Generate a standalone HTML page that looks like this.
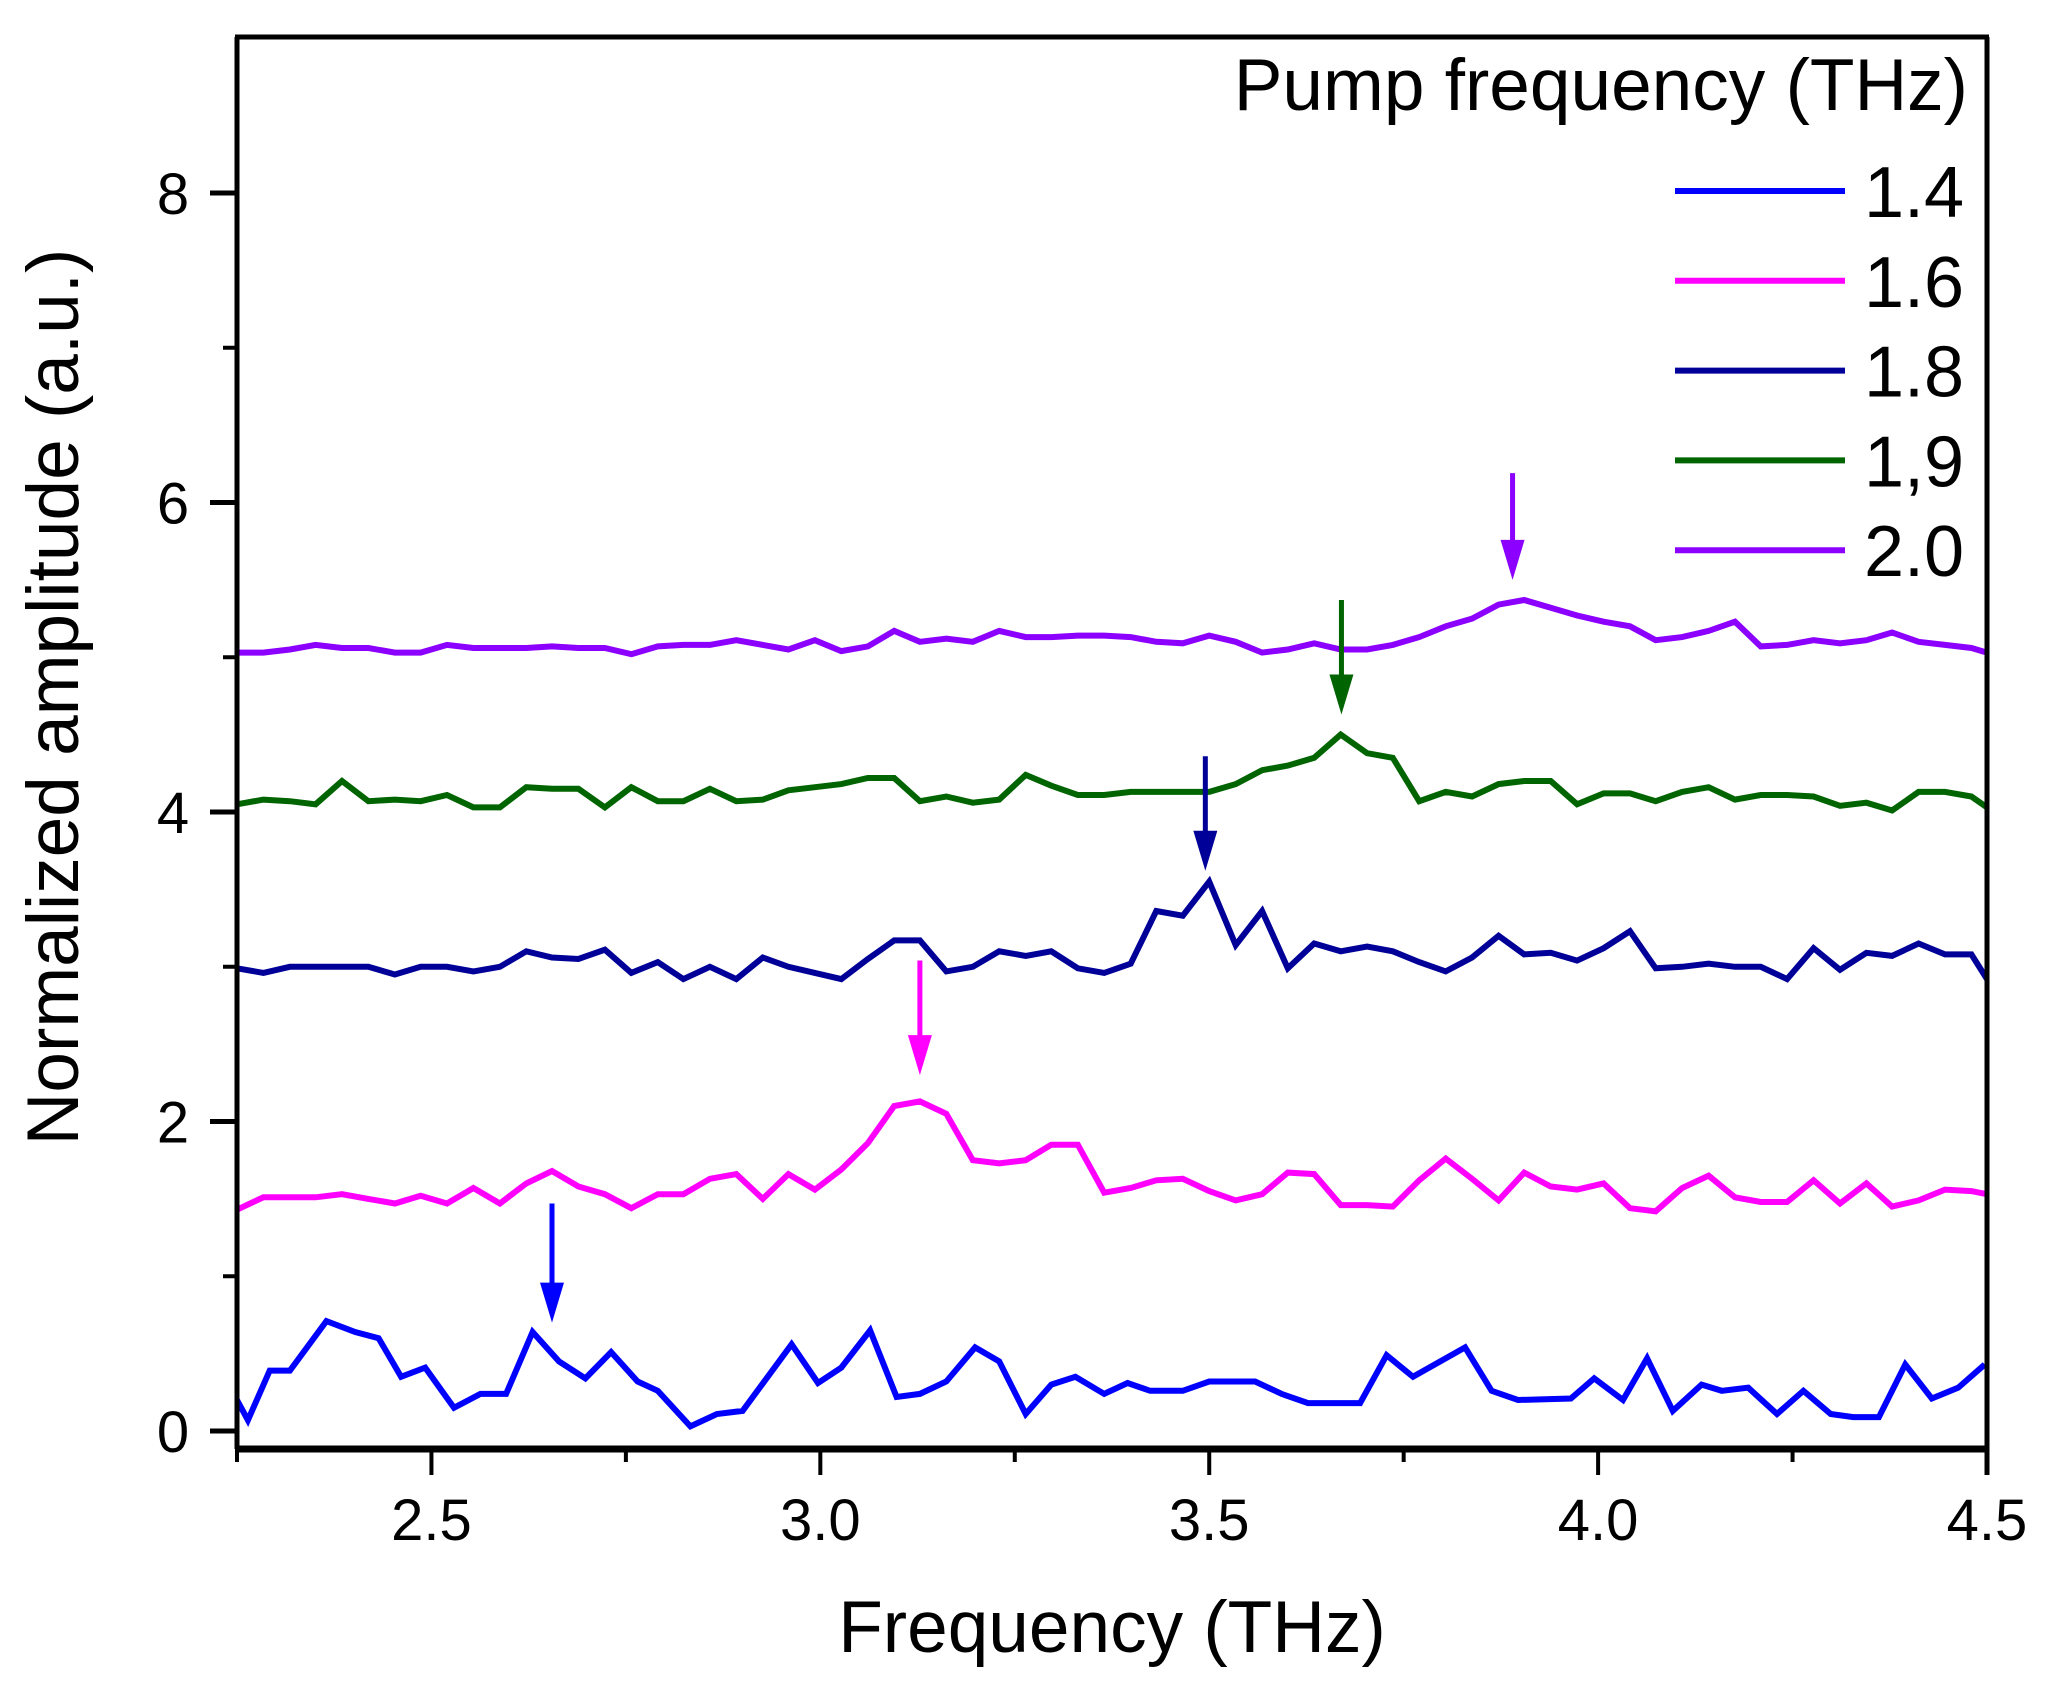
<!DOCTYPE html>
<html><head><meta charset="utf-8"><style>
html,body{margin:0;padding:0;background:#fff;}
svg{display:block;font-family:"Liberation Sans",sans-serif;}
</style></head><body>
<svg id="chart" width="2062" height="1691" viewBox="0 0 2062 1691" xmlns="http://www.w3.org/2000/svg"></svg>
<script>
// ---- data ----
const freqGrid=[2.250,2.284,2.318,2.351,2.385,2.419,2.453,2.486,2.520,2.554,2.588,2.622,2.655,2.689,2.723,2.757,2.791,2.824,2.858,2.892,2.926,2.959,2.993,3.027,3.061,3.095,3.128,3.162,3.196,3.230,3.264,3.297,3.331,3.365,3.399,3.432,3.466,3.500,3.534,3.568,3.601,3.635,3.669,3.703,3.736,3.770,3.804,3.838,3.872,3.905,3.939,3.973,4.007,4.041,4.074,4.108,4.142,4.176,4.209,4.243,4.277,4.311,4.345,4.378,4.412,4.446,4.480,4.500];
const blueFreq=[2.250,2.264,2.292,2.318,2.365,2.402,2.432,2.461,2.492,2.529,2.563,2.596,2.630,2.664,2.698,2.731,2.765,2.791,2.833,2.867,2.900,2.963,2.997,3.027,3.064,3.098,3.128,3.162,3.199,3.230,3.264,3.297,3.328,3.365,3.395,3.424,3.466,3.500,3.559,3.593,3.627,3.694,3.728,3.762,3.829,3.863,3.897,3.965,3.995,4.032,4.063,4.096,4.133,4.159,4.193,4.230,4.264,4.299,4.328,4.361,4.395,4.429,4.463,4.497];
const s14=[0.20,0.07,0.39,0.39,0.71,0.64,0.60,0.35,0.41,0.15,0.24,0.24,0.64,0.45,0.34,0.51,0.32,0.26,0.03,0.11,0.13,0.56,0.31,0.41,0.65,0.22,0.24,0.32,0.54,0.45,0.11,0.30,0.35,0.24,0.31,0.26,0.26,0.32,0.32,0.24,0.18,0.18,0.49,0.35,0.54,0.26,0.20,0.21,0.34,0.20,0.47,0.13,0.30,0.26,0.28,0.11,0.26,0.11,0.09,0.09,0.43,0.21,0.28,0.43];
const s16=[1.43,1.51,1.51,1.51,1.53,1.50,1.47,1.52,1.47,1.57,1.47,1.60,1.68,1.58,1.53,1.44,1.53,1.53,1.63,1.66,1.50,1.66,1.56,1.69,1.86,2.10,2.13,2.05,1.75,1.73,1.75,1.85,1.85,1.54,1.57,1.62,1.63,1.55,1.49,1.53,1.67,1.66,1.46,1.46,1.45,1.62,1.76,1.63,1.49,1.67,1.58,1.56,1.60,1.44,1.42,1.57,1.65,1.51,1.48,1.48,1.62,1.47,1.60,1.45,1.49,1.56,1.55,1.53];
const s18=[2.99,2.96,3.00,3.00,3.00,3.00,2.95,3.00,3.00,2.97,3.00,3.10,3.06,3.05,3.11,2.96,3.03,2.92,3.00,2.92,3.06,3.00,2.96,2.92,3.05,3.17,3.17,2.97,3.00,3.10,3.07,3.10,2.99,2.96,3.02,3.36,3.33,3.55,3.14,3.36,2.99,3.15,3.10,3.13,3.10,3.03,2.97,3.06,3.20,3.08,3.09,3.04,3.12,3.23,2.99,3.00,3.02,3.00,3.00,2.92,3.12,2.98,3.09,3.07,3.15,3.08,3.08,2.92];
const s19=[4.05,4.08,4.07,4.05,4.20,4.07,4.08,4.07,4.11,4.03,4.03,4.16,4.15,4.15,4.03,4.16,4.07,4.07,4.15,4.07,4.08,4.14,4.16,4.18,4.22,4.22,4.07,4.10,4.06,4.08,4.24,4.17,4.11,4.11,4.13,4.13,4.13,4.13,4.18,4.27,4.30,4.35,4.50,4.38,4.35,4.07,4.13,4.10,4.18,4.20,4.20,4.05,4.12,4.12,4.07,4.13,4.16,4.08,4.11,4.11,4.10,4.04,4.06,4.01,4.13,4.13,4.10,4.03];
const s20=[5.03,5.03,5.05,5.08,5.06,5.06,5.03,5.03,5.08,5.06,5.06,5.06,5.07,5.06,5.06,5.02,5.07,5.08,5.08,5.11,5.08,5.05,5.11,5.04,5.07,5.17,5.10,5.12,5.10,5.17,5.13,5.13,5.14,5.14,5.13,5.10,5.09,5.14,5.10,5.03,5.05,5.09,5.05,5.05,5.08,5.13,5.20,5.25,5.34,5.37,5.32,5.27,5.23,5.20,5.11,5.13,5.17,5.23,5.07,5.08,5.11,5.09,5.11,5.16,5.10,5.08,5.06,5.03];
const seriesLabels=["1.4","1.6","1.8","1,9","2.0"];
const arrowFreqs=[2.655,3.128,3.495,3.67,3.89];
const arrowTops=[1.47,3.04,4.36,5.37,6.19];
const arrowTips=[0.70,2.30,3.62,4.63,5.50];
const xTicks=[2.5,3.0,3.5,4.0,4.5];
const xTickLabels=["2.5","3.0","3.5","4.0","4.5"];
const xMinorTicks=[2.25,2.75,3.25,3.75,4.25];
const yTicks=[0,2,4,6,8];
const yTickLabels=["0","2","4","6","8"];
const yMinorTicks=[1,3,5,7];

// ---- layout ----
const L=237,R=1987,T=37,B=1449;
const X=f=>L+(f-2.25)/(4.5-2.25)*(R-L);
const Y=v=>1431-v*154.75;
const colors=["#0000ff","#ff00ff","#000099","#006400","#8b00ff"];
const NS="http://www.w3.org/2000/svg";
const svg=document.getElementById('chart');
function mk(tag,attrs,parent){const e=document.createElementNS(NS,tag);for(const k in attrs)e.setAttribute(k,attrs[k]);(parent||svg).appendChild(e);return e;}

const allSeries=[[blueFreq,s14],[freqGrid,s16],[freqGrid,s18],[freqGrid,s19],[freqGrid,s20]];
const plot=mk('g',{});


allSeries.forEach((s,i)=>{
  const pts=s[1].map((v,j)=>X(s[0][j]).toFixed(1)+','+Y(v).toFixed(1)).join(' ');
  const pl=mk('polyline',{points:pts,fill:'none',stroke:colors[i],'stroke-width':6,'stroke-linejoin':'miter'},plot);
  
  
});
// arrows
arrowFreqs.forEach((f,i)=>{
  const g=mk('g',{});
  
  
  const x=X(f),y1=Y(arrowTops[i]),y2=Y(arrowTips[i]);
  mk('line',{x1:x,y1:y1,x2:x,y2:y2-30,stroke:colors[i],'stroke-width':5},g);
  mk('polygon',{points:`${x-12},${y2-40} ${x+12},${y2-40} ${x},${y2}`,fill:colors[i]},g);
});
// axes frame
const ax=mk('g',{});


mk('line',{x1:L-2,y1:T,x2:R+2,y2:T,stroke:'#000','stroke-width':5},ax);
mk('line',{x1:L,y1:T,x2:L,y2:B,stroke:'#000','stroke-width':5},ax);
mk('line',{x1:R,y1:T,x2:R,y2:B+26,stroke:'#000','stroke-width':5},ax);
mk('line',{x1:L-2,y1:B,x2:R+2,y2:B,stroke:'#000','stroke-width':7},ax);
// x ticks
xTicks.forEach((t,i)=>{
  mk('line',{x1:X(t),y1:B,x2:X(t),y2:B+26,stroke:'#000','stroke-width':4},ax);
  const tx=mk('text',{x:X(t),y:1540,'font-size':58,'text-anchor':'middle',fill:'#000'},ax);
  tx.textContent=xTickLabels[i];
  
  
});
xMinorTicks.forEach(t=>{mk('line',{x1:X(t),y1:B,x2:X(t),y2:B+13,stroke:'#000','stroke-width':4},ax);});
// y ticks
yTicks.forEach((t,i)=>{
  mk('line',{x1:L-27,y1:Y(t),x2:L,y2:Y(t),stroke:'#000','stroke-width':5},ax);
  const tx=mk('text',{x:173,y:Y(t)+21,'font-size':58,'text-anchor':'middle',fill:'#000'},ax);
  tx.textContent=yTickLabels[i];
  
  
});
yMinorTicks.forEach(t=>{mk('line',{x1:L-14,y1:Y(t),x2:L,y2:Y(t),stroke:'#000','stroke-width':4},ax);});
// axis titles
const xt=mk('text',{x:1112,y:1652,'font-size':73,'text-anchor':'middle',fill:'#000'});
xt.textContent='Frequency (THz)';


const yt=mk('text',{x:0,y:0,'font-size':73,'text-anchor':'middle',fill:'#000',transform:'translate(78,697) rotate(-90)'});
yt.textContent='Normalized amplitude (a.u.)';


// legend
const lg=mk('g',{});


const lt=mk('text',{x:1968,y:110,'font-size':73,'text-anchor':'end',fill:'#000'},lg);
lt.textContent='Pump frequency (THz)';


seriesLabels.forEach((lab,i)=>{
  const y=191+i*89.8;
  const e=mk('g',{},lg);
  
  
  mk('line',{x1:1675,y1:y,x2:1845,y2:y,stroke:colors[i],'stroke-width':6},e);
  const t=mk('text',{x:1864,y:y+26,'font-size':72,fill:'#000'},e);
  t.textContent=lab;
});
</script>
</body></html>
